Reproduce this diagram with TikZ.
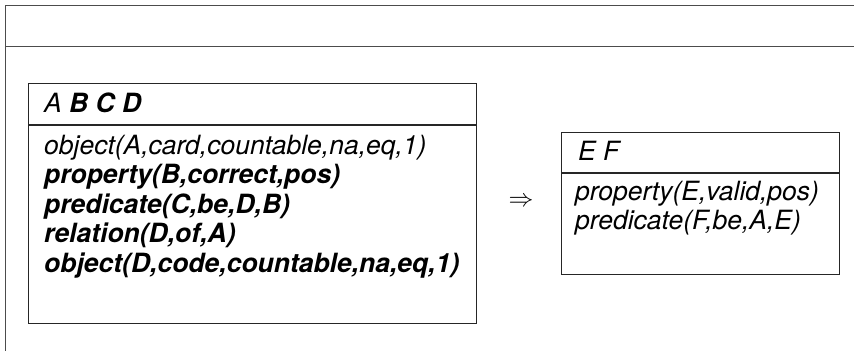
\documentclass[tikz,border=0pt]{standalone}
\usepackage{fontspec}
\setmainfont{TeX Gyre Heros}
\usepackage{tikz}
\usetikzlibrary{positioning}

\tikzset{
  frame/.style={draw=black!85,line width=1pt,anchor=north west,inner sep=0pt},
  fact/.style={anchor=base west,inner sep=0pt},
  hardfact/.style={fact,font=\fontsize{26.5}{29.5}\selectfont\bfseries\itshape}
}

\begin{document}
\begin{tikzpicture}[x=1pt,y=-1pt,every node/.style={font=\fontsize{26.5}{29.5}\selectfont\itshape}]
\useasboundingbox (0,0) rectangle (854,351);
% page frame
\draw[black!70,line width=1pt] (854,5) -- (5,5) -- (5,351);
\draw[black!70,line width=1pt] (5,46) -- (854,46);
% left rule
\node[frame,minimum width=448pt,minimum height=41pt] (lhead) at (28,83) {};
\node[frame,minimum width=448pt,minimum height=198pt] (lbody) at (lhead.south west) {};
\node[fact] (lvars) at (44,112) {A \textbf{B C D}};
\node[fact] (lf1) at (44,154) {object(A,card,countable,na,eq,1)};
\foreach \txt [count=\i from 2] in {{property(B,correct,pos)},{predicate(C,be,D,B)},{relation(D,of,A)},{object(D,code,countable,na,eq,1)}}
  \node[hardfact] (lf\i) at (44,{154+29.5*(\i-1)}) {\txt};
% arrow
\node[font=\fontsize{30}{32}\selectfont] (impl) at (521,202) {$\Rightarrow$};
% right rule
\node[frame,minimum width=278pt,minimum height=40pt] (rhead) at (561,132) {};
\node[frame,minimum width=278pt,minimum height=101pt] (rbody) at (rhead.south west) {};
\node[fact] (rvars) at (578,160) {E F};
\node[fact] (rf1) at (575,200) {property(E,valid,pos)};
\node[fact] (rf2) at (575,229.5) {predicate(F,be,A,E)};
\end{tikzpicture}
\end{document}
